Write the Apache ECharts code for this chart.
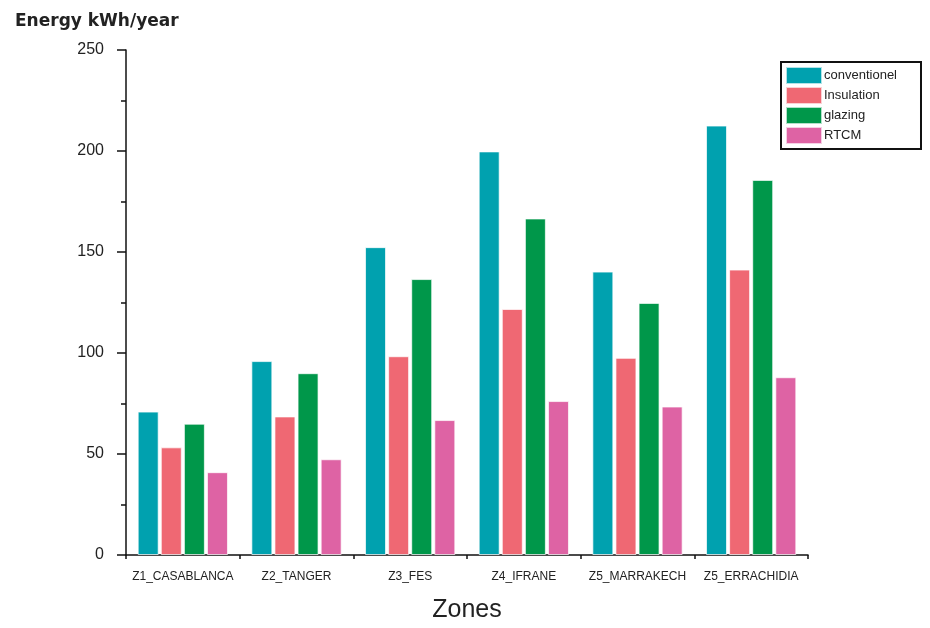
<!DOCTYPE html>
<html><head><meta charset="utf-8">
<script src="https://cdn.jsdelivr.net/npm/echarts@6/dist/echarts.min.js"></script>
<style>html,body{margin:0;padding:0;background:#fff}#c{width:930px;height:628px}</style>
</head><body><div id="c"></div>
<script>
var categories = ['Z1_CASABLANCA','Z2_TANGER','Z3_FES','Z4_IFRANE','Z5_MARRAKECH','Z5_ERRACHIDIA'];
var seriesNames = ['conventionel','Insulation','glazing','RTCM'];
var conventionel = [71, 96, 152.4, 199.8, 140.3, 212.6];
var insulation = [53.3, 68.6, 98.4, 121.8, 97.6, 141.3];
var glazing = [65, 90, 136.6, 166.6, 124.8, 185.7];
var rtcm = [41, 47.4, 66.8, 76.2, 73.5, 88];
var yTicks = [0, 50, 100, 150, 200, 250];
var colors = ['#00A1AF', '#EF6873', '#00974A', '#DE63A4'];

var chart = echarts.init(document.getElementById('c'), null, {renderer: 'canvas'});
var allData = [conventionel, insulation, glazing, rtcm];
var series = allData.map(function (d, i) {
  return {
    name: seriesNames[i], type: 'bar', data: d, xAxisIndex: 0,
    barWidth: 21, barGap: '10%',
    itemStyle: {color: colors[i], borderColor: 'rgba(255,255,255,0.7)', borderWidth: 1}
  };
});
chart.setOption({
  animation: false,
  backgroundColor: '#fff',
  title: {text: 'Energy kWh/year', left: 10, top: 8,
    textStyle: {fontFamily: 'DejaVu Sans', fontSize: 17, fontWeight: 'bold', color: '#222'}},
  legend: {
    orient: 'vertical', left: 781, top: 62,
    data: seriesNames, icon: 'rect', itemWidth: 36, itemHeight: 17, itemGap: 1,
    borderColor: '#111', borderWidth: 2, padding: [4, 24, 4, 4],
    textStyle: {fontFamily: 'Liberation Sans', fontSize: 13, color: '#222', padding: [0, 0, 0, -3]}
  },
  grid: {left: 126, right: 122, top: 50, bottom: 71, containLabel: false},
  xAxis: [{
    type: 'category', data: categories, position: 'bottom',
    name: 'Zones', nameLocation: 'middle', nameGap: 43,
    nameTextStyle: {fontFamily: 'Liberation Sans', fontSize: 25, color: '#222'},
    axisLine: {lineStyle: {color: '#111', width: 1.5}},
    axisTick: {alignWithLabel: true, length: 7, lineStyle: {color: '#111', width: 1.5}},
    axisLabel: {fontFamily: 'Liberation Sans Narrow, Liberation Sans', fontSize: 12, color: '#222', margin: 16, interval: 0}
  }, {
    type: 'category', data: categories, position: 'bottom',
    axisLine: {show: false},
    axisTick: {show: true, interval: 0, length: 4, lineStyle: {color: '#111', width: 1.5}},
    axisLabel: {show: false}
  }],
  yAxis: {
    type: 'value', min: yTicks[0], max: yTicks[yTicks.length - 1], interval: 50,
    axisLine: {show: true, lineStyle: {color: '#111', width: 1.5}},
    axisTick: {show: true, length: 9, lineStyle: {color: '#111', width: 1.5}},
    minorTick: {show: true, splitNumber: 2, length: 5, lineStyle: {color: '#111', width: 1.5}},
    splitLine: {show: false},
    axisLabel: {fontFamily: 'Liberation Sans', fontSize: 16, color: '#222', margin: 22}
  },
  series: series
});
</script></body></html>
